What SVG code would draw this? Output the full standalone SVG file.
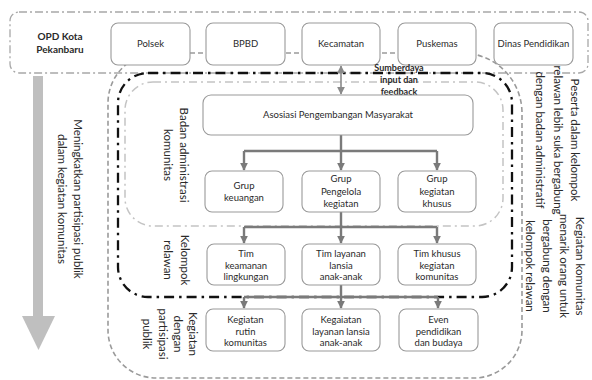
<svg xmlns="http://www.w3.org/2000/svg" width="592" height="380" viewBox="0 0 592 380">
<defs>
<style>
text{font-family:Lato,"Open Sans","Liberation Sans",sans-serif;fill:#2a2a2a}
.bx{fill:#fff;stroke:#9a9a9a;stroke-width:1.1}
.t{font-size:9.5px;text-anchor:middle}
.rt{font-size:11.5px;text-anchor:middle}
.b{font-weight:bold}
.ln{fill:none;stroke:#7a7a7a;stroke-width:2.4}
</style>
<marker id="ah" viewBox="0 0 10 10" refX="9" refY="5" markerWidth="3.2" markerHeight="3.2" orient="auto"><path d="M0,0L10,5L0,10z" fill="#7a7a7a"/></marker>
<marker id="ah2" viewBox="0 0 10 10" refX="9" refY="5" markerWidth="5" markerHeight="5" orient="auto-start-reverse"><path d="M0,0L10,5L0,10z" fill="#8a8a8a"/></marker>
</defs>
<rect width="592" height="380" fill="#fff"/>

<g id="boundaries">
<rect id="opd-frame" x="10" y="12" width="578" height="61" rx="9" fill="none" stroke="#a8a8a8" stroke-width="1.3" stroke-dasharray="8 3 2 3"/>
<path id="outer-loop" d="M158,53H462A60,60 0 0 1 522,113V330A48,48 0 0 1 474,378H156A48,48 0 0 1 108,330V103A50,50 0 0 1 158,53Z" fill="none" stroke="#9a9a9a" stroke-width="1.6" stroke-dasharray="5 3"/>
<rect id="relawan-loop" x="118" y="73" width="394" height="224" rx="30" fill="none" stroke="#111" stroke-width="2.3" stroke-dasharray="10 5 2.5 5"/>
<rect id="admin-loop" x="125" y="82" width="378" height="144" rx="28" fill="none" stroke="#c4c4c4" stroke-width="1.5" stroke-dasharray="8 4 2 4"/>
</g>

<g id="big-arrow">
<rect x="33" y="76" width="10" height="241" fill="#bfbfbf"/>
<path d="M22,316H55L38.5,350Z" fill="#bfbfbf"/>
</g>

<g id="connectors">
<line x1="341" y1="66" x2="341" y2="94" stroke="#8a8a8a" stroke-width="1.6" marker-start="url(#ah2)" marker-end="url(#ah2)"/>
<path class="ln" d="M341,135V151M244,151H437"/>
<path class="ln" d="M244,151V170" marker-end="url(#ah)"/>
<path class="ln" d="M341,151V170" marker-end="url(#ah)"/>
<path class="ln" d="M437,151V170" marker-end="url(#ah)"/>
<path class="ln" d="M341,212V227M244,227H437"/>
<path class="ln" d="M244,227V243" marker-end="url(#ah)"/>
<path class="ln" d="M341,227V243" marker-end="url(#ah)"/>
<path class="ln" d="M437,227V243" marker-end="url(#ah)"/>
<path class="ln" d="M341,285V297M244,297H438"/>
<path class="ln" d="M244,297V308" marker-end="url(#ah)"/>
<path class="ln" d="M341,297V308" marker-end="url(#ah)"/>
<path class="ln" d="M438,297V308" marker-end="url(#ah)"/>
</g>

<g id="opd-label"><text class="t b" x="60" y="40" style="font-size:10px">OPD Kota</text><text class="t b" x="60" y="53" style="font-size:10px">Pekanbaru</text></g>

<g id="polsek"><rect class="bx" x="111" y="23" width="79" height="42" rx="7"/><text class="t" x="150.5" y="47">Polsek</text></g>
<g id="bpbd"><rect class="bx" x="206" y="23" width="79" height="42" rx="7"/><text class="t" x="245.5" y="47">BPBD</text></g>
<g id="kecamatan"><rect class="bx" x="302" y="23" width="78" height="42" rx="7"/><text class="t" x="341" y="47">Kecamatan</text></g>
<g id="puskemas"><rect class="bx" x="398" y="23" width="78" height="42" rx="7"/><text class="t" x="437" y="47">Puskemas</text></g>
<g id="dinas"><rect class="bx" x="494" y="23" width="79" height="42" rx="7"/><text class="t" x="533.5" y="47">Dinas  Pendidikan</text></g>

<g id="sumberdaya-label" class="b"><text class="t b" x="399" y="71" style="font-size:9px">Sumberdaya</text><text class="t b" x="399" y="83" style="font-size:9px">input dan</text><text class="t b" x="399" y="95" style="font-size:9px">feedback</text></g>

<g id="asosiasi"><rect class="bx" x="203" y="95" width="270" height="40" rx="8"/><text class="t" x="338" y="118">Asosiasi Pengembangan Masyarakat</text></g>

<g id="grup-keuangan"><rect class="bx" x="205" y="171" width="78" height="41" rx="7"/><text class="t" x="244" y="189">Grup</text><text class="t" x="244" y="201">keuangan</text></g>
<g id="grup-pengelola"><rect class="bx" x="302" y="171" width="78" height="41" rx="7"/><text class="t" x="341" y="182">Grup</text><text class="t" x="341" y="194.5">Pengelola</text><text class="t" x="341" y="207">kegiatan</text></g>
<g id="grup-khusus"><rect class="bx" x="398" y="171" width="78" height="41" rx="7"/><text class="t" x="437" y="182">Grup</text><text class="t" x="437" y="194.5">kegiatan</text><text class="t" x="437" y="207">khusus</text></g>

<g id="tim-keamanan"><rect class="bx" x="207" y="244" width="78" height="41" rx="7"/><text class="t" x="246" y="257">Tim</text><text class="t" x="246" y="268.5">keamanan</text><text class="t" x="246" y="280">lingkungan</text></g>
<g id="tim-layanan"><rect class="bx" x="302" y="244" width="78" height="41" rx="7"/><text class="t" x="341" y="257">Tim layanan</text><text class="t" x="341" y="268.5">lansia</text><text class="t" x="341" y="280">anak-anak</text></g>
<g id="tim-khusus"><rect class="bx" x="398" y="244" width="78" height="41" rx="7"/><text class="t" x="437" y="257">Tim khusus</text><text class="t" x="437" y="268.5">kegiatan</text><text class="t" x="437" y="280">komunitas</text></g>

<g id="kegiatan-rutin"><rect class="bx" x="206" y="309" width="79" height="42" rx="7"/><text class="t" x="245.5" y="323">Kegiatan</text><text class="t" x="245.5" y="334.5">rutin</text><text class="t" x="245.5" y="346">komunitas</text></g>
<g id="kegiatan-layanan"><rect class="bx" x="302" y="309" width="78" height="42" rx="7"/><text class="t" x="341" y="323">Kegaiatan</text><text class="t" x="341" y="334.5">layanan lansia</text><text class="t" x="341" y="346">anak-anak</text></g>
<g id="even"><rect class="bx" x="399" y="309" width="79" height="42" rx="7"/><text class="t" x="438.5" y="323">Even</text><text class="t" x="438.5" y="334.5">pendidikan</text><text class="t" x="438.5" y="346">dan budaya</text></g>

<g id="label-meningkatkan" transform="translate(78,199) rotate(90)"><text class="rt" x="0" y="4">Meningkatkan partisipasi publik</text><text class="rt" x="0" y="20">dalam kegiatan komunitas</text></g>
<g id="label-badan" transform="translate(184,155) rotate(90)"><text class="rt" x="0" y="4">Badan administrasi</text><text class="rt" x="0" y="20">komunitas</text></g>
<g id="label-kelompok" transform="translate(185,260) rotate(90)"><text class="rt" x="0" y="4">Kelompok</text><text class="rt" x="0" y="21">relawan</text></g>
<g id="label-kegiatan" transform="translate(193,334) rotate(90)"><text class="rt" x="0" y="4">Kegiatan</text><text class="rt" x="0" y="19">dengan</text><text class="rt" x="0" y="34">partisipasi</text><text class="rt" x="0" y="50">publik</text></g>
<g id="label-peserta" transform="translate(575,140) rotate(90)"><text class="rt" x="0" y="4">Peserta dalam kelompok</text><text class="rt" x="0" y="21.5">relawan lebih suka bergabung</text><text class="rt" x="0" y="39">dengan badan administratif</text></g>
<g id="label-kegiatan-komunitas" transform="translate(580,266) rotate(90)"><text class="rt" x="0" y="4">Kegiatan komunitas</text><text class="rt" x="0" y="20.5">menarik orang untuk</text><text class="rt" x="0" y="37">bergabung dengan</text><text class="rt" x="0" y="54">kelompok relawan</text></g>
</svg>
